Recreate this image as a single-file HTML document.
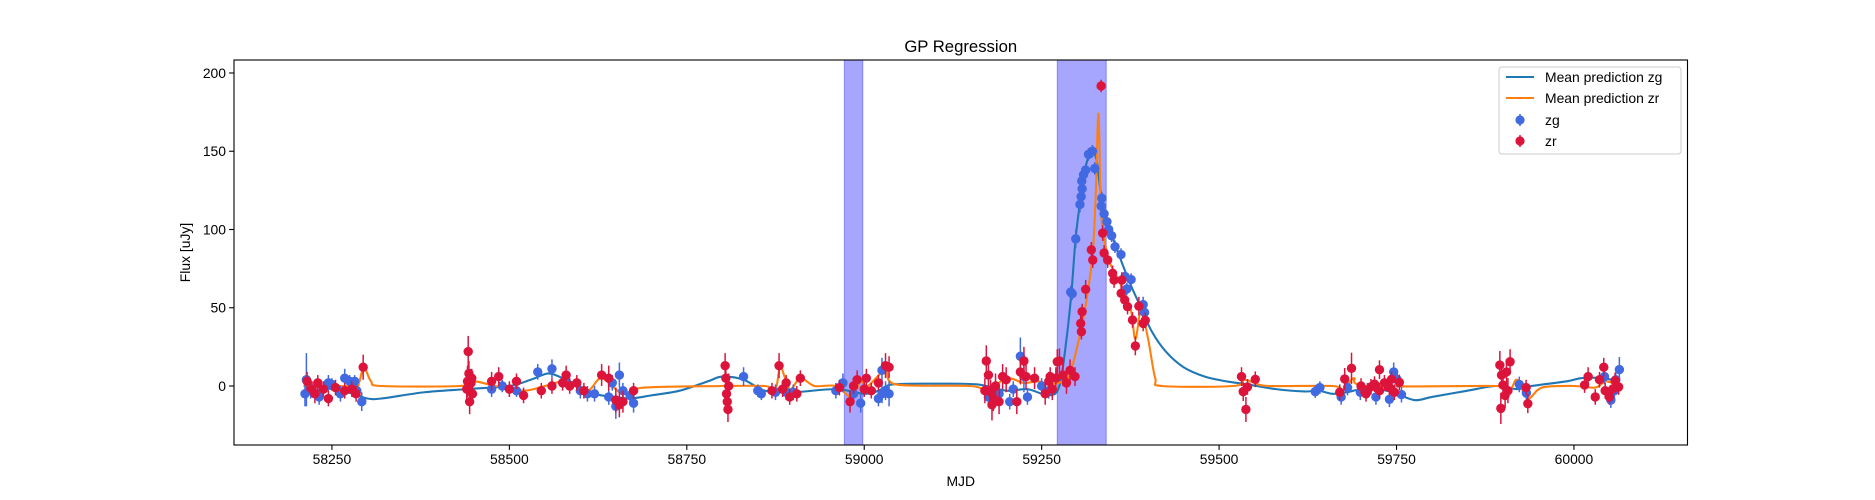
<!DOCTYPE html>
<html><head><meta charset="utf-8"><style>
body{margin:0;background:#fff}
svg{display:block;font-family:"Liberation Sans","DejaVu Sans",sans-serif}
</style></head><body>
<svg id="chart" width="1875" height="500" xmlns="http://www.w3.org/2000/svg">
<rect width="1875" height="500" fill="#fff"/>
<g id="spans"></g>
<g id="curves"></g>
<g id="pts"></g>
<rect x="234" y="60" width="1453.5" height="385" fill="none" stroke="#000" stroke-width="1.1"/>
<g id="axes"></g>
<text x="960.75" y="52" font-size="16.7" text-anchor="middle">GP Regression</text>
<text x="960.75" y="486" font-size="13.9" text-anchor="middle">MJD</text>
<text transform="translate(190,252.5) rotate(-90)" font-size="13.9" text-anchor="middle">Flux [uJy]</text>
<g>
<rect x="1499" y="67" width="182" height="87" rx="3" fill="#fff" fill-opacity="0.8" stroke="#ccc"/>
<line x1="1506" y1="77" x2="1534" y2="77" stroke="#1f77b4" stroke-width="2.1"/>
<text x="1545" y="82" font-size="13.9">Mean prediction zg</text>
<line x1="1506" y1="98" x2="1534" y2="98" stroke="#ff7f0e" stroke-width="2.1"/>
<text x="1545" y="103" font-size="13.9">Mean prediction zr</text>
<line x1="1520" y1="114" x2="1520" y2="126" stroke="#4169e1" stroke-width="1.5"/>
<circle cx="1520" cy="120" r="4.6" fill="#4169e1"/>
<text x="1545" y="125" font-size="13.9">zg</text>
<line x1="1520" y1="135" x2="1520" y2="147" stroke="#dc143c" stroke-width="1.5"/>
<circle cx="1520" cy="141" r="4.6" fill="#dc143c"/>
<text x="1545" y="146" font-size="13.9">zr</text>
</g>
</svg>
<script>
const xTicks=[58250,58500,58750,59000,59250,59500,59750,60000];
const yTicks=[0,50,100,150,200];
const spanStarts=[58972,59272];
const spanEnds=[58998,59341];
const zgMjd=[58212,58214,58220,58232,58245,58250,58262,58268,58275,58282,58285,58292,58445,58475,58490,58510,58540,58560,58580,58600,58610,58620,58640,58645,58650,58655,58660,58670,58675,58830,58850,58855,58875,58890,58900,58960,58970,58985,58995,59020,59025,59025,59030,59035,59175,59190,59205,59210,59220,59225,59230,59250,59260,59291,59293,59298,59304,59305.6,59307,59306.5,59309,59312,59316,59321.5,59324.8,59334.7,59334,59338,59342,59344.5,59348.6,59353.4,59361.8,59367.5,59370,59376,59393,59395,59635.5,59642,59672,59681,59699,59709,59721,59740,59746,59751,59757,59923,59933,60043,60052,60057,60059,60064];
const zgFlux=[-5,4,-3,-7,2,1,-5,5,3,3,-3,-10,5,-2,0,-3,9,11,3,-3,-5,-5,-7,2,-13,7,-3,-6,-11,6,-3,-5,-4,-4,-4,-3,2,-5,-11,-8,-5,10,-3,-5,-7,-5,-10,-2,19,6,-7,0,-3,60,59,94,116,121,126,131,135,138,148,150,139,120,115,110,105,100,96,89,84,70,62,68,52,47,-3.6,-1,-7,-1,-4,-3,-7,-8.5,9,4,-5.5,1,-4.5,6,-9,-3,4,10.5];
const zgErr=[8,17,5,5,5,4,5,6,4,4,4,6,6,5,4,4,5,6,4,5,5,5,5,5,8,8,5,4,6,6,4,4,5,5,5,5,6,5,6,5,6,8,6,8,6,5,5,5,12,10,5,5,5,4,4,6,5,4,4,4,4,4,4,4,4,4,4,4,4,4,4,4,4,4,4,4,5,5,4,4,5,5,5,5,5,5,6,5,5,5,5,5,5,5,5,8];
const zrMjd=[58215,58222,58226,58230,58238,58245,58255,58268,58278,58284,58294,58440,58441,58442,58443,58444,58446,58447,58448,58475,58485,58500,58510,58520,58545,58560,58575,58580,58585,58595,58605,58630,58640,58650,58655,58660,58675,58804,58805,58806,58807,58808,58809,58870,58880,58885,58890,58895,58905,58910,58965,58980,58985,58990,59000,59003,59010,59020,59030,59035,59170,59172,59175,59178,59180,59182,59185,59190,59195,59200,59215,59220,59225,59228,59240,59255,59260,59262,59265,59270,59272,59275,59280,59285,59290,59297,59305,59306,59307,59312,59320,59322,59333.8,59336,59338,59343,59350,59352,59362,59363,59367,59371,59378,59382,59387,59393,59396,59531.6,59534,59537.8,59540,59551,59670,59677,59686.6,59700,59707,59714,59719,59726,59726,59733,59740,59743,59747,59754,59895.6,59897,59898,59900,59903,59905,59907,59910,59932.6,59935,60015,60020,60030,60036,60042,60044,60050,60055,60058,60063];
const zrFlux=[3,-2,-5,2,-2,-8,-1,-3,-2,-5,12,-2,3,22,8,-10,2,5,-5,3,6,-2,3,-6,-3,0,2,7,0,2,-3,7,5,-9,-12,-10,-3,13,5,-5,-10,-15,0,-3,13,-2,2,-7,-5,5,-1,-10,0,4,-2,5,-3,2,13,12,-3,16,7,-4,-12,-8,0,-10,6,4,-10,9,16,6,5,-5,3,6,-2,5,15.5,16,7,2,10,6,40,34.7,47.5,61.8,87,80.5,191.7,97.7,85,80.5,72,67.7,59.2,67.7,55,50.7,42.2,25.6,51,40,42,6,-3.6,-15,-0.6,4.3,-4,4.5,11.3,0,-5,-0.5,1.2,10.4,-3,2,-1,4.3,-4,2.3,13.4,-14.3,7,0.6,-6,9,-3,15.5,-1,-11.3,0.6,6,-7,4,12,-3,-7,-1.8,3.5,-0.6];
const zrErr=[6,5,6,5,5,5,5,5,5,5,8,8,10,10,8,8,6,6,6,6,6,5,5,5,5,5,5,6,5,5,5,7,8,8,8,7,5,8,6,6,7,8,8,5,8,5,5,5,5,5,5,7,5,6,5,6,5,5,8,7,8,10,10,8,10,8,8,8,8,8,8,8,9,8,7,7,6,6,7,7,8,8,7,7,7,6,6,5,5,6,5,5,4,5,5,5,5,5,5,5,5,5,5,6,6,5,5,6,6,8,5,5,5,7,10,5,5,5,5,6,5,5,5,5,5,5,9,10,8,8,8,8,8,8,5,6,5,6,5,5,6,5,5,5,5,5];
const zgCurveMjd=[58210,58220,58250,58280,58300,58320,58380,58440,58500,58530,58555,58575,58590,58620,58650,58670,58700,58740,58780,58800,58830,58860,58900,58960,59000,59020,59040,59100,59160,59200,59230,59260,59275,59285,59292,59298,59305,59312,59320,59327,59333,59340,59350,59362,59375,59390,59405,59425,59450,59480,59510,59540,59580,59620,59640,59660,59680,59700,59720,59745,59775,59800,59850,59890,59920,59940,59990,60010,60040,60063];
const zgCurveVal=[0,0,-2,-5,-8,-8,-4,-2,0,4,8,5,2,-5,-7,-8,-6,-3,3,6,4,-3,-4,-2,-5,-3,1,1.5,1,-3,-2,-6,0,30,60,95,120,140,150,145,125,110,95,80,65,50,35,22,12,6,3,1,-2,-3.5,-3,-5,-4,-2,-2,-4,-9,-7,-3,0,-2,0,3,5,5,3];
const zrCurveMjd=[58210,58280,58288,58295,58305,58320,58430,58450,58480,58520,58550,58580,58610,58630,58660,58690,58800,58860,58875,58882,58895,58910,58930,58960,58982,58995,59005,59030,59045,59150,59175,59200,59225,59245,59260,59280,59290,59305,59315,59322,59326,59330,59333,59336,59345,59358,59375,59382,59390,59400,59410,59420,59520,59535,59550,59570,59660,59675,59690,59710,59890,59910,59920,59935,59955,60000,60030,60045,60063];
const zrCurveVal=[0,0,2,12,3,0,0,3,0,-3,0,3,-3,5,-5,-1,0,0,-2,12,-2,5,0,0,-7,3,0,10,1,0,-3,5,2,3,1,3,8,35,60,85,120,174,120,100,80,68,50,30,48,30,5,0,0,4,2,0,0,-3,5,0,0,-2,4,-8,-1,0,-1,3,0];

const X0=234,X1=1687.5,Y0=445,Y1=60,xmin=58112,xmax=60160,ymin=-37.7,ymax=208.3;
const xs=v=>X0+(v-xmin)/(xmax-xmin)*(X1-X0);
const ys=v=>Y0-(v-ymin)/(ymax-ymin)*(Y0-Y1);
const NS='http://www.w3.org/2000/svg';
function mk(tag,attrs,parent){const e=document.createElementNS(NS,tag);for(const k in attrs)e.setAttribute(k,attrs[k]);parent.appendChild(e);return e;}
const spans=document.getElementById('spans');
spanStarts.forEach((s,i)=>{
  const r=mk('rect',{x:xs(s),y:Y1,width:xs(spanEnds[i])-xs(s),height:Y0-Y1,fill:'blue','fill-opacity':0.35,stroke:'blue','stroke-opacity':0.35},spans);
  
  
});
function smooth(mx,vy){
  const p=mx.map((m,i)=>[xs(m),ys(vy[i])]);
  let d='M'+p[0][0]+','+p[0][1];
  for(let i=0;i<p.length-1;i++){
    const a=p[Math.max(0,i-1)],b=p[i],c=p[i+1],e=p[Math.min(p.length-1,i+2)];
    const t=0.16;
    d+=' C'+(b[0]+(c[0]-a[0])*t)+','+(b[1]+(c[1]-a[1])*t)+' '+(c[0]-(e[0]-b[0])*t)+','+(c[1]-(e[1]-b[1])*t)+' '+c[0]+','+c[1];
  }
  return d;
}
const curves=document.getElementById('curves');
const cg=mk('path',{d:smooth(zgCurveMjd,zgCurveVal),fill:'none',stroke:'#1f77b4','stroke-width':2.1},curves);


const cr=mk('path',{d:smooth(zrCurveMjd,zrCurveVal),fill:'none',stroke:'#ff7f0e','stroke-width':2.1},curves);


const pts=document.getElementById('pts');
function drawPts(mj,fl,er,col,name){
  mj.forEach((m,i)=>{
    const g=mk('g',{},pts);
    
    
    mk('line',{x1:xs(m),x2:xs(m),y1:ys(fl[i]-er[i]),y2:ys(fl[i]+er[i]),stroke:col,'stroke-width':1.5},g);
    mk('circle',{cx:xs(m),cy:ys(fl[i]),r:4.7,fill:col},g);
  });
}
drawPts(zgMjd,zgFlux,zgErr,'#4169e1','zg-point');
drawPts(zrMjd,zrFlux,zrErr,'#dc143c','zr-point');
const axes=document.getElementById('axes');
xTicks.forEach(t=>{
  const l=mk('line',{x1:xs(t),x2:xs(t),y1:Y0,y2:Y0+4.9,stroke:'#000','stroke-width':1.1},axes);
  
  
  const tx=mk('text',{x:xs(t),y:Y0+19,'font-size':13.9,'text-anchor':'middle'},axes);
  tx.textContent=t;
  
  
});
yTicks.forEach(t=>{
  const l=mk('line',{x1:X0-4.9,x2:X0,y1:ys(t),y2:ys(t),stroke:'#000','stroke-width':1.1},axes);
  
  
  const tx=mk('text',{x:X0-8,y:ys(t)+5,'font-size':13.9,'text-anchor':'end'},axes);
  tx.textContent=t;
  
  
});
</script>
</body></html>
